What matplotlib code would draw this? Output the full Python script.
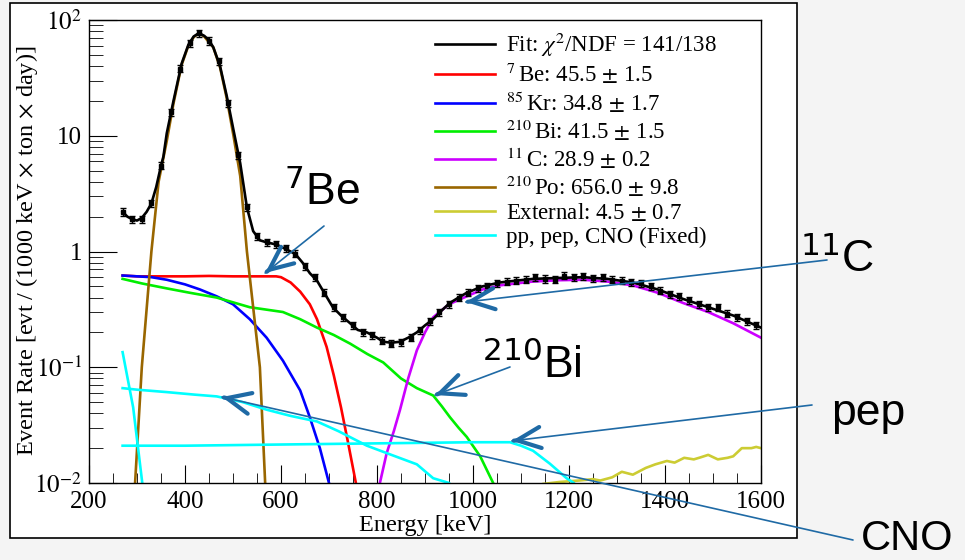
import numpy as np
import matplotlib
matplotlib.use("Agg")
import matplotlib.pyplot as plt
from matplotlib.patches import Rectangle

plt.rcParams['font.family'] = ['Liberation Serif', 'DejaVu Serif']
plt.rcParams['mathtext.fontset'] = 'stix'

# ---- data (energy in keV, rate in evt/(1000 keV ton day))
data_E = [270, 290, 310, 330, 350, 370, 390, 410, 430, 450, 470, 490, 510, 530,
          550, 570, 590, 610, 630, 650, 670, 690, 710, 730, 750, 770, 790, 810,
          830, 850, 870, 890, 910, 930, 950, 970, 990, 1010, 1030, 1050, 1070,
          1090, 1110, 1130, 1150, 1170, 1190, 1210, 1230, 1250, 1270, 1290, 1310,
          1330, 1350, 1370, 1390, 1410, 1430, 1450, 1470, 1490, 1510, 1530, 1550,
          1570, 1590]
data_rate = [2.2, 1.9, 1.9, 2.6, 5.5, 16, 38, 63, 77, 66, 44, 19, 6.8, 2.4,
             1.35, 1.2, 1.15, 1.07, 0.96, 0.75, 0.6, 0.44, 0.33, 0.27, 0.23, 0.2,
             0.19, 0.17, 0.16, 0.165, 0.18, 0.21, 0.25, 0.3, 0.35, 0.4, 0.44, 0.48,
             0.5, 0.53, 0.55, 0.56, 0.57, 0.6, 0.58, 0.57, 0.62, 0.6, 0.61, 0.59,
             0.6, 0.57, 0.56, 0.54, 0.53, 0.5, 0.46, 0.43, 0.41, 0.38, 0.35, 0.33,
             0.33, 0.29, 0.27, 0.25, 0.23]
data_relerr = 0.07

fit_E = [270, 280, 290, 300, 310, 320, 330, 340, 350, 355, 362, 376, 393, 407,
         418, 429, 440, 450, 459, 473, 487, 501, 515, 529, 542, 556, 570, 590,
         610, 630, 645, 660, 675, 690, 708, 725, 744, 760, 779, 800, 813, 830,
         848, 865, 883, 900, 917, 935, 952, 970, 987, 1020, 1056, 1090, 1125,
         1175, 1229, 1280, 1333, 1385, 1437, 1490, 1542, 1600]
fit_rate = [2.2, 2.0, 1.9, 1.85, 1.95, 2.2, 2.6, 3.6, 5.5, 6.6, 10.5, 20, 42, 61,
            72, 77, 73, 67, 58, 40, 22, 11.2, 5.8, 2.4, 1.5, 1.25, 1.2, 1.15,
            1.05, 0.95, 0.8, 0.65, 0.56, 0.44, 0.33, 0.28, 0.24, 0.21, 0.2, 0.18,
            0.166, 0.163, 0.166, 0.18, 0.2, 0.23, 0.26, 0.31, 0.36, 0.4, 0.44,
            0.5, 0.54, 0.56, 0.58, 0.59, 0.6, 0.58, 0.54, 0.47, 0.39, 0.33, 0.28,
            0.22]

be7_E = [270, 300, 350, 400, 450, 500, 550, 590, 600, 620, 640, 660, 675, 695,
         710, 725, 740, 756, 765]
be7_rate = [0.62, 0.61, 0.61, 0.61, 0.615, 0.61, 0.61, 0.61, 0.6, 0.54, 0.45,
            0.35, 0.26, 0.15, 0.085, 0.045, 0.022, 0.01, 0.007]

kr85_E = [270, 300, 330, 362, 400, 431, 466, 500, 535, 570, 604, 640, 660, 681,
          700, 710]
kr85_rate = [0.62, 0.61, 0.6, 0.57, 0.52, 0.47, 0.41, 0.35, 0.26, 0.18, 0.114,
             0.063, 0.037, 0.02, 0.01, 0.007]

bi210_E = [270, 310, 362, 410, 466, 535, 604, 640, 675, 710, 744, 780, 813, 850,
           883, 917, 935, 952, 970, 987, 1015, 1042, 1050]
bi210_rate = [0.58, 0.53, 0.48, 0.44, 0.40, 0.33, 0.30, 0.26, 0.22, 0.19, 0.16,
              0.13, 0.11, 0.08, 0.066, 0.057, 0.046, 0.037, 0.03, 0.025, 0.017,
              0.01, 0.008]

c11_E = [800, 806, 820, 835, 848, 865, 883, 900, 917, 950, 987, 1020, 1056, 1090,
         1125, 1180, 1229, 1280, 1333, 1385, 1437, 1490, 1542, 1600]
c11_rate = [0.007, 0.01, 0.018, 0.028, 0.043, 0.08, 0.14, 0.2, 0.27, 0.35, 0.41,
            0.47, 0.51, 0.53, 0.55, 0.565, 0.57, 0.55, 0.51, 0.44, 0.36, 0.3,
            0.24, 0.18]

po210_E = [290, 296, 310, 330, 345, 362, 376, 393, 407, 418, 429, 440, 459, 473,
           487, 501, 515, 529, 556, 567, 572]
po210_rate = [0.005, 0.01, 0.1, 1, 4, 9, 19, 41, 60, 71, 77, 72, 58, 39, 21, 10,
              4.5, 1, 0.1, 0.01, 0.005]

ext_E = [1140, 1145, 1180, 1220, 1250, 1265, 1290, 1310, 1333, 1360, 1380, 1404,
         1420, 1440, 1460, 1473, 1490, 1510, 1530, 1542, 1560, 1580, 1590, 1600]
ext_rate = [0.009, 0.0098, 0.0102, 0.0105, 0.0108, 0.0105, 0.0112, 0.0125, 0.0118,
            0.0135, 0.0145, 0.0155, 0.015, 0.0165, 0.016, 0.0166, 0.0175, 0.016,
            0.0165, 0.017, 0.02, 0.02, 0.0205, 0.02]

pp_E = [270, 292, 311, 316]
pp_rate = [0.135, 0.045, 0.01, 0.007]

cno_E = [270, 300, 362, 420, 466, 520, 570, 620, 675, 720, 779, 830, 883, 917,
         950, 960]
cno_rate = [0.066, 0.064, 0.061, 0.058, 0.056, 0.05, 0.043, 0.038, 0.034, 0.028,
            0.021, 0.0175, 0.0145, 0.011, 0.01, 0.009]

pep_E = [270, 400, 600, 800, 1000, 1077, 1100, 1125, 1160, 1195, 1210, 1220]
pep_rate = [0.021, 0.021, 0.0215, 0.022, 0.0225, 0.0225, 0.021, 0.019, 0.0147,
            0.011, 0.01, 0.009]

pm = r'$\,\pm\,$'
labels = [r'Fit: $\chi^{2}$/NDF = 141/138',
          r'$^{7}\,$Be: 45.5' + pm + '1.5',
          r'$^{85}\,$Kr: 34.8' + pm + '1.7',
          r'$^{210}\,$Bi: 41.5' + pm + '1.5',
          r'$^{11}\,$C: 28.9' + pm + '0.2',
          r'$^{210}\,$Po: 656.0' + pm + '9.8',
          'External: 4.5' + pm + '0.7',
          'pp, pep, CNO (Fixed)']

W, H = 965, 560
fig = plt.figure(figsize=(W / 100, H / 100), dpi=100, facecolor='#f4f4f4')
fig.add_artist(Rectangle((10 / W, 1 - 538 / H), 787 / W, 535 / H,
                         transform=fig.transFigure, facecolor='white',
                         edgecolor='black', lw=1.2, zorder=0))

ax = fig.add_axes([89 / W, 1 - 483 / H, 672 / W, 463 / H])
ax.set_yscale('log')
ax.set_xlim(200, 1600)
ax.set_ylim(0.01, 100)

lw = 1.9
ax.errorbar(data_E, data_rate, yerr=np.array(data_rate) * data_relerr, fmt='s',
            ms=2.5, color='black', ecolor='black', elinewidth=1, capsize=2.5,
            capthick=1, zorder=5)
ax.plot(fit_E, fit_rate, color='black', lw=lw, label=labels[0], zorder=6)
ax.plot(be7_E, be7_rate, color='#ff0000', lw=lw, label=labels[1])
ax.plot(kr85_E, kr85_rate, color='#0000ff', lw=lw, label=labels[2])
ax.plot(bi210_E, bi210_rate, color='#00ee00', lw=lw, label=labels[3])
ax.plot(c11_E, c11_rate, color='#cc00ff', lw=lw, label=labels[4])
ax.plot(po210_E, po210_rate, color='#996600', lw=lw, label=labels[5])
ax.plot(ext_E, ext_rate, color='#cccc33', lw=lw, label=labels[6])
ax.plot(pp_E, pp_rate, color='#00ffff', lw=lw, label=labels[7])
ax.plot(cno_E, cno_rate, color='#00ffff', lw=lw)
ax.plot(pep_E, pep_rate, color='#00ffff', lw=lw)

# ROOT-like axes
for s in ax.spines.values():
    s.set_linewidth(1.0)
ax.set_xticks(np.arange(200, 1601, 200))
ax.set_xticks(np.arange(200, 1601, 50), minor=True)
ax.set_yticks([0.01, 0.1, 1, 10, 100])
ax.set_yticklabels([r'$10^{-2}$', r'$10^{-1}$', '1', '10', r'$10^{2}$'])
ax.tick_params(which='both', direction='in', top=False, right=False,
               labelsize=18)
ax.tick_params(axis='y', which='major', length=20, pad=5)
ax.tick_params(axis='y', which='minor', length=10)
ax.tick_params(axis='x', which='major', length=13, pad=6)
ax.tick_params(axis='x', which='minor', length=7)

fig.text(425 / W, 1 - 526 / H, 'Energy [keV]', fontsize=17.5,
         ha='center', va='center')
fig.text(27 / W, 1 - 251 / H,
         r'Event Rate [evt / (1000 keV $\times$ ton $\times$ day)]',
         fontsize=17.5, rotation=90, ha='center', va='center')

ax.legend(loc='upper left', bbox_to_anchor=(435 / W, 1 - 31 / H),
          bbox_transform=fig.transFigure, frameon=False, fontsize=16.5,
          handlelength=2.6, handletextpad=0.5, labelspacing=0.12,
          borderpad=0, borderaxespad=0)

# annotations (slide text and arrows), positions in image pixels
arrow_col = '#1f6aa5'
notes = [(r'$^{7}$Be', 284, 205, 32),
         (r'$^{11}$C', 800, 272, 32),
         (r'$^{210}$Bi', 482, 378, 32),
         ('pep', 831, 425, 32),
         ('CNO', 861, 550, 30)]
for txt, x, y, fs in notes:
    fig.text(x / W, 1 - y / H, txt, fontsize=fs, family='Liberation Sans',
             math_fontfamily='dejavusans', va='baseline', ha='left')

# (tip energy, tip rate, tail x px, tail y px)
arrows = [(567, 0.652, 324, 226),
          (985, 0.366, 827, 260),
          (921, 0.0575, 510, 367),
          (1081, 0.0231, 812, 405),
          (477, 0.0553, 853, 540)]
for e, r, tx, ty in arrows:
    tail = (tx, H - ty)
    ax.annotate('', xy=(e, r), xycoords='data', xytext=tail,
                textcoords='figure pixels', annotation_clip=False,
                arrowprops=dict(arrowstyle='-', color=arrow_col, lw=1.2,
                                shrinkA=0, shrinkB=0), zorder=8)
    tip = ax.transData.transform((e, r))
    d = np.array(tail) - tip
    d = d / np.hypot(*d)
    ax.annotate('', xy=(e, r), xycoords='data', xytext=tuple(tip + 2 * d),
                textcoords='figure pixels', annotation_clip=False,
                arrowprops=dict(arrowstyle='->,head_length=0.85,head_width=0.38',
                                color=arrow_col, lw=3.0, mutation_scale=20,
                                shrinkA=0, shrinkB=0), zorder=8)

fig.savefig('out.png', dpi=100, facecolor=fig.get_facecolor())
